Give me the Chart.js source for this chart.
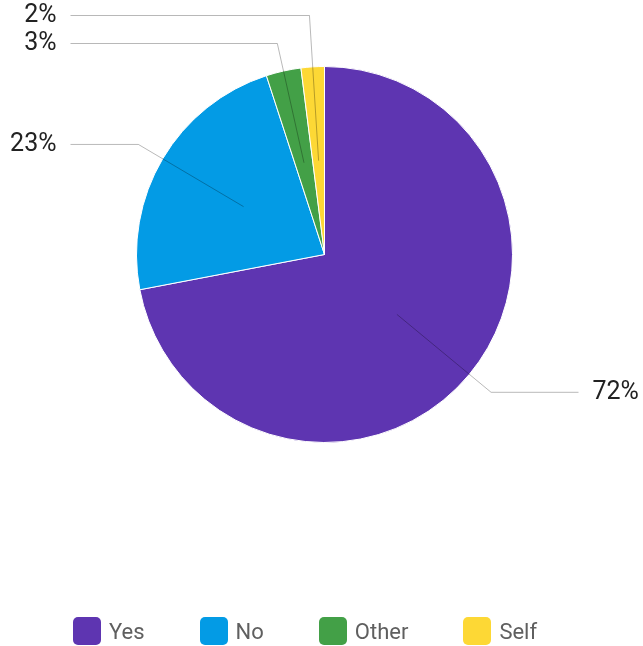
<!DOCTYPE html>
<html>
<head>
<meta charset="utf-8">
<script src="https://cdn.jsdelivr.net/npm/chart.js@4/dist/chart.umd.min.js"></script>
<style>
    body {
        margin: 0;
        background: #fff;
        font-family: Roboto, "Noto Sans", Arial, sans-serif;
    }
    #wrap {
        position: relative;
        width: 643px;
        height: 646px;
    }
    #legend {
        position: absolute;
        left: 73px;
        top: 617px;
        display: flex;
        gap: 55px;
    }
    .item {
        display: flex;
        align-items: center;
        gap: 8px;
        font-size: 22px;
        color: #5f5f5f;
        height: 28px;
    }
    .box {
        width: 28px;
        height: 28px;
        border-radius: 5px;
    }
</style>
</head>
<body>
<div id="wrap">
    <canvas id="myChart" width="643" height="646"></canvas>
    <div id="legend"></div>
</div>
<script>
const labels = ["Yes", "No", "Other", "Self"];
const values = [72, 23, 3, 2];
const colors = ["#5e35b1", "#039be5", "#43a047", "#fdd835"];

// percent labels outside the pie with bent leader lines
const leaderLabels = {
    id: "leaderLabels",
    afterDatasetsDraw(chart) {
        const ctx = chart.ctx;
        const arcs = chart.getDatasetMeta(0).data;
        const total = values.reduce((a, b) => a + b, 0);
        let items = arcs.map((arc, i) => {
            const mid = (arc.startAngle + arc.endAngle) / 2;
            const R = arc.outerRadius;
            const ux = Math.cos(mid), uy = Math.sin(mid);
            return {
                i, ux, uy, cx: arc.x, cy: arc.y, R,
                side: ux >= 0 ? 1 : -1,
                y: arc.y + uy * R * 1.15,
            };
        });

        // push labels apart on each side, working from the bottom up
        [1, -1].forEach((side) => {
            const group = items.filter((it) => it.side == side).sort((a, b) => b.y - a.y);
            for (let k = 1; k < group.length; k++) {
                if (group[k - 1].y - group[k].y < 28) {
                    group[k].y = group[k - 1].y - 28;
                }
            }
        });

        ctx.save();
        ctx.lineWidth = 1;
        ctx.strokeStyle = "rgba(0,0,0,0.28)";
        ctx.fillStyle = "#222";
        ctx.font = "25px Roboto";
        ctx.textBaseline = "middle";
        items.forEach((it) => {
            const sx = it.cx + it.ux * it.R * 0.5;
            const sy = it.cy + it.uy * it.R * 0.5;
            const r = (it.y - it.cy) / it.uy;
            const ex = it.cx + it.ux * r;
            const endX = it.cx + it.side * 254;
            ctx.beginPath();
            ctx.moveTo(sx, sy);
            ctx.lineTo(ex, it.y);
            ctx.lineTo(endX, it.y);
            ctx.stroke();
            const pct = Math.round((values[it.i] / total) * 100) + "%";
            ctx.textAlign = it.side > 0 ? "left" : "right";
            ctx.fillText(pct, endX + it.side * 14, it.y);
        });
        ctx.restore();
    },
};

const data = {
    labels,
    datasets: [
        {
            data: values,
            backgroundColor: colors,
            borderColor: "#fff",
            borderWidth: 1,
        },
    ],
};

const config = {
    type: "pie",
    data: data,
    options: {
        responsive: false,
        animation: false,
        layout: {
            padding: { top: 66, bottom: 203, left: 136, right: 130 },
        },
        plugins: {
            legend: {
                display: false,
            },
            tooltip: {
                enabled: false,
            },
        },
    },
    plugins: [leaderLabels],
};

const chart = new Chart(document.getElementById("myChart").getContext("2d"), config);

// html legend under the pie
let legend = document.querySelector("#legend");
labels.forEach((name, i) => {
    let item = document.createElement("div");
    item.className = "item";
    let box = document.createElement("div");
    box.className = "box";
    box.style.background = colors[i];
    let txt = document.createElement("span");
    txt.textContent = name;
    item.appendChild(box);
    item.appendChild(txt);
    legend.appendChild(item);
});
</script>
</body>
</html>
